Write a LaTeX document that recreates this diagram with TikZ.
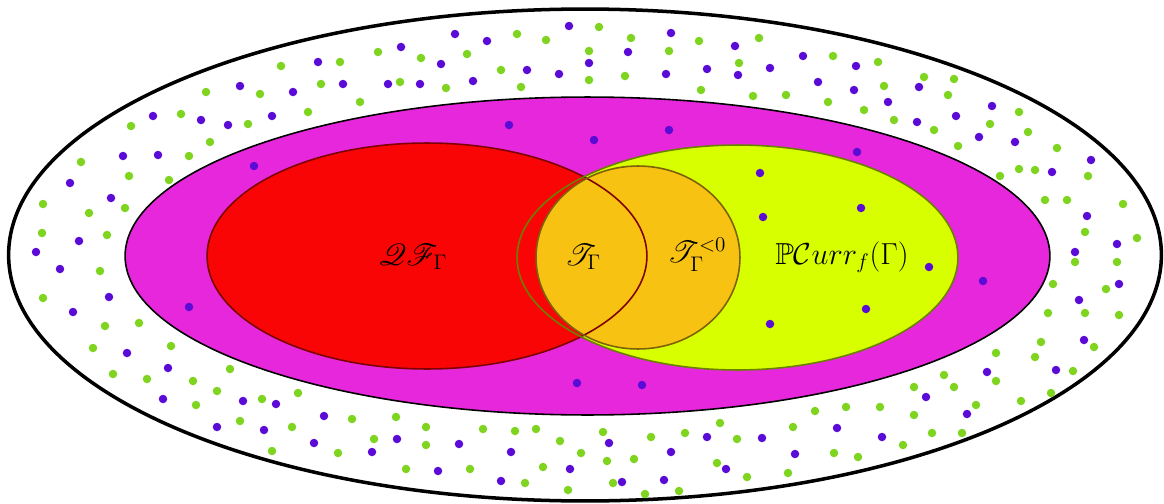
\documentclass[tikz,border=0pt]{standalone}
\usepackage{amssymb}
\usepackage{mathrsfs}
\usepackage{tikz}
\definecolor{SetMagenta}{HTML}{E627DB}
\definecolor{SetRed}{HTML}{FA0505}
\definecolor{SetLime}{HTML}{D7FF00}
\definecolor{SetOrange}{HTML}{F8C213}
\definecolor{DotViolet}{HTML}{5A0BD6}
\definecolor{DotGreen}{HTML}{7FD420}

\begin{document}
\begin{tikzpicture}[
      x=0.02cm, y=-0.02cm,
      font=\LARGE,
      edgeline/.style={line width=0.9pt},
      vdot/.style={fill=DotViolet},
      gdot/.style={fill=DotGreen}
    ]
      \useasboundingbox (0,0) rectangle (1164,504);
      % outer region and magenta region
      \draw[line width=2pt, fill=white] (585,255) ellipse [x radius=11.53cm, y radius=4.92cm];
      \draw[line width=0.9pt, fill=SetMagenta] (587.5,256) ellipse [x radius=9.25cm, y radius=3.18cm];
      % fills first, outlines on top
      \fill[SetLime] (737.5,257.5) ellipse [x radius=4.41cm, y radius=2.25cm];
      \fill[SetRed] (427,256) ellipse [x radius=4.4cm, y radius=2.26cm];
      \fill[SetOrange] (638,257.5) ellipse [x radius=2.04cm, y radius=1.83cm];
      \draw[edgeline, draw=SetRed!50!black] (427,256) ellipse [x radius=4.4cm, y radius=2.26cm];
      \draw[edgeline, draw=SetLime!50!black] (737.5,257.5) ellipse [x radius=4.41cm, y radius=2.25cm];
      \draw[edgeline, draw=SetOrange!50!black] (638,257.5) ellipse [x radius=2.04cm, y radius=1.83cm];
      % violet points
      \foreach \px/\py in {569/26,455/34,487/41,589/63,559/74,527/70,473/81,420/84,388/84,441/64,
          401/47,318/62,343/84,293/92,240/86,272/116,228/125,201/120,153/116,158/155,123/156,
          70/183,111/198,79/241,36/252,671/33,735/46,628/52,666/74,707/69,738/75,770/68,803/56,
          856/66,818/82,854/90,888/102,917/122,919/87,956/116,992/106,979/137,1015/142,1091/160,
          1052/172,1087/216,1117/244,1075/252,60/269,109/297,73/312,127/353,168/368,163/399,
          243/401,276/404,217/427,264/430,324/416,314/443,397/439,372/452,459/444,438/471,
          511/452,570/469,501/481,1119/284,1079/300,1084/340,987/372,1056/370,926/397,967/414,
          837/428,882/437,795/454,707/437,762/438,609/443,671/452,726/469,622/482,664/480,
          254/166,509/125,594/140,669/130,857/152,760/173,861/208,763/217,189/307,577/383,
          929/267,983/281,866/309,770/324,642/385}
        \fill[vdot] (\px,\py) circle [radius=0.085cm];
      % green points
      \foreach \px/\py in {599/27,517/34,546/40,589/51,589/80,501/70,521/87,446/88,400/82,467/54,
          421/58,378/52,340/62,281/66,321/84,260/94,206/92,360/102,308/112,248/124,181/114,
          131/126,210/142,189/156,81/162,129/176,169/180,125/208,43/204,89/213,42/233,107/235,
          631/38,699/41,759/38,669/51,625/76,739/63,701/90,753/96,786/95,833/56,878/62,884/86,
          828/102,864/110,894/120,934/130,924/77,954/79,948/95,958/146,1019/112,990/124,
          1028/132,1057/148,1000/176,1019/169,1035/170,1088/176,1045/200,1067/200,1123/204,
          1085/232,1137/238,100/271,43/298,105/326,139/323,93/348,171/346,113/374,147/379,
          193/381,230/369,217/391,196/405,262/399,298/393,240/421,292/427,352/419,396/417,
          426/427,272/451,338/453,374/439,426/445,406/469,470/469,483/429,515/431,536/429,
          560/441,581/453,543/467,525/483,568/490,1075/262,1117/262,1053/284,1106/289,1048/313,
          1085/313,1119/315,1041/342,1094/347,1035/357,996/353,996/381,1073/371,944/375,
          954/387,914/387,976/405,1021/401,1051/393,914/415,932/433,962/433,880/407,846/407,
          815/411,903/445,793/427,834/453,858/457,788/473,720/423,685/433,651/437,737/439,
          603/432,607/461,634/459,717/463,747/477,613/483,645/494,679/491}
        \fill[gdot] (\px,\py) circle [radius=0.085cm];
      % labels
      \node (qf) at (413,257) {$\mathscr{Q}\mathscr{F}_\Gamma$};
      \node (tg) at (583,257) {$\mathscr{T}_\Gamma$};
      \node (tneg) at (697,255) {$\mathscr{T}_\Gamma^{<0}$};
      \node (pcurr) at (842,257) {$\mathbb{P}\mathcal{C}urr_f(\Gamma)$};
    \end{tikzpicture}
\end{document}
